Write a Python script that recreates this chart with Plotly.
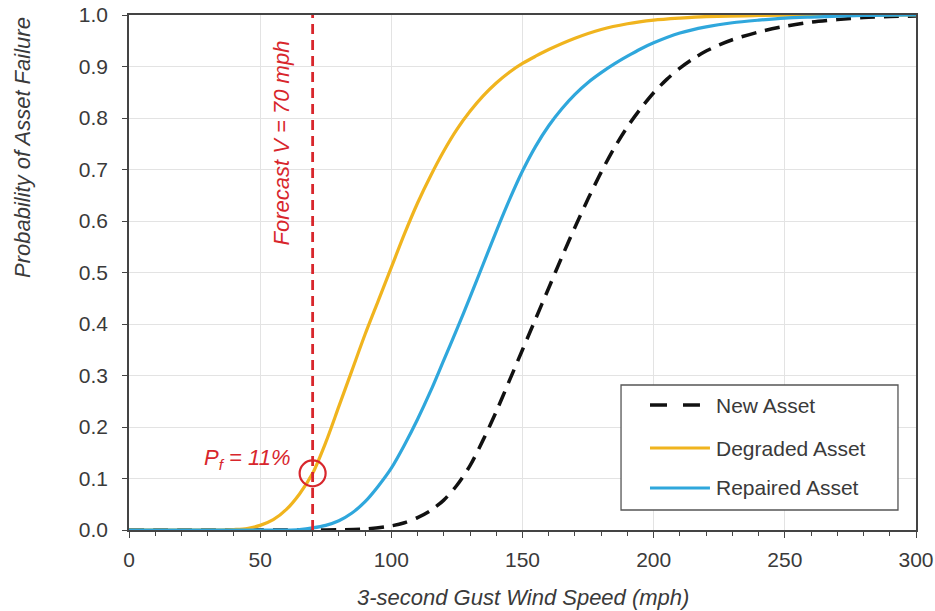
import plotly.graph_objects as go

# ---- data ----
wind_new = [0, 10, 20, 30, 40, 50, 60, 70, 80, 90, 100, 105, 110, 115, 120, 125, 130, 135, 140, 145, 150,
            155, 160, 165, 170, 175, 180, 185, 190, 195, 200, 205, 210, 215, 220, 225, 230, 240, 250,
            260, 270, 280, 290, 300]
p_new = [0, 0, 0, 0, 0, 0, 0, 0, 0.0005, 0.002, 0.008, 0.014, 0.024, 0.038, 0.058, 0.087, 0.125, 0.175,
         0.23, 0.29, 0.35, 0.41, 0.47, 0.53, 0.588, 0.643, 0.695, 0.742, 0.783, 0.818, 0.849, 0.875,
         0.897, 0.915, 0.93, 0.942, 0.952, 0.967, 0.978, 0.986, 0.991, 0.995, 0.997, 0.998]

wind_deg = [0, 10, 20, 30, 35, 40, 45, 50, 55, 60, 65, 70, 75, 80, 85, 90, 95, 100, 105, 110, 115, 120,
            125, 130, 135, 140, 145, 150, 155, 160, 170, 180, 190, 200, 210, 220, 240, 260, 280, 300]
p_deg = [0, 0, 0, 0, 0, 0.001, 0.003, 0.009, 0.02, 0.04, 0.07, 0.11, 0.17, 0.24, 0.31, 0.38, 0.445,
         0.51, 0.575, 0.635, 0.688, 0.736, 0.778, 0.813, 0.843, 0.868, 0.889, 0.906, 0.92, 0.933, 0.955,
         0.972, 0.983, 0.99, 0.994, 0.997, 0.999, 1.0, 1.0, 1.0]

wind_rep = [0, 10, 20, 30, 40, 50, 60, 65, 70, 75, 80, 85, 90, 95, 100, 105, 110, 115, 120, 125, 130,
            135, 140, 145, 150, 155, 160, 165, 170, 175, 180, 185, 190, 195, 200, 210, 220, 230, 240,
            250, 260, 280, 300]
p_rep = [0, 0, 0, 0, 0, 0, 0, 0.001, 0.004, 0.009, 0.018, 0.033, 0.055, 0.085, 0.12, 0.165, 0.215,
         0.27, 0.33, 0.39, 0.452, 0.516, 0.58, 0.641, 0.697, 0.745, 0.785, 0.818, 0.846, 0.869, 0.888,
         0.905, 0.92, 0.934, 0.946, 0.965, 0.977, 0.985, 0.99, 0.994, 0.996, 0.999, 1.0]

forecast_v = 70
forecast_pf = 0.11
series_names = ["New Asset", "Degraded Asset", "Repaired Asset"]
x_ticks = [0, 50, 100, 150, 200, 250, 300]
y_ticks = [0.0, 0.1, 0.2, 0.3, 0.4, 0.5, 0.6, 0.7, 0.8, 0.9, 1.0]

# ---- styling ----
C_NEW = "#111111"
C_DEG = "#F0B41E"
C_REP = "#2FA7DC"
C_RED = "#D8262C"
FONT = "Liberation Sans, Arial, sans-serif"
TXT = "#3a3a3a"
SM = 0.8

fig = go.Figure()
fig.add_trace(go.Scatter(x=wind_new, y=p_new, mode="lines", name=series_names[0],
                         line=dict(color=C_NEW, width=3.5, dash="15px,9px", shape="spline", smoothing=SM)))
fig.add_trace(go.Scatter(x=wind_deg, y=p_deg, mode="lines", name=series_names[1],
                         line=dict(color=C_DEG, width=3.2, shape="spline", smoothing=SM)))
fig.add_trace(go.Scatter(x=wind_rep, y=p_rep, mode="lines", name=series_names[2],
                         line=dict(color=C_REP, width=3.2, shape="spline", smoothing=SM)))
# forecast line
fig.add_trace(go.Scatter(x=[forecast_v, forecast_v], y=[0, 1], mode="lines", showlegend=False,
                         line=dict(color=C_RED, width=2.8, dash="10px,6px")))
# circle at Pf
fig.add_trace(go.Scatter(x=[forecast_v], y=[forecast_pf], mode="markers", showlegend=False,
                         marker=dict(symbol="circle-open", size=26, color=C_RED, line=dict(width=2.2, color=C_RED))))

fig.update_layout(
    width=935, height=611,
    margin=dict(l=129, r=19, t=15, b=81, autoexpand=False),
    paper_bgcolor="white", plot_bgcolor="white",
    showlegend=False,
    font=dict(family=FONT, size=21, color=TXT),
)
fig.update_xaxes(range=[0, 300], tickvals=x_ticks, showgrid=True, gridcolor="#e3e3e3", gridwidth=1,
                 showline=True, linecolor="#444", linewidth=1.5, mirror=True, automargin=False,
                 ticks="outside", ticklen=6, tickcolor="#444", tickwidth=1.3,
                 minor=dict(dtick=10, ticks="outside", ticklen=4, tickcolor="#444", showgrid=False),
                 tickfont=dict(size=21, color=TXT), ticklabelstandoff=4, zeroline=False)
fig.update_yaxes(range=[0, 1.0], tickvals=y_ticks, tickformat=".1f", showgrid=True, gridcolor="#e3e3e3",
                 gridwidth=1, showline=True, linecolor="#444", linewidth=1.5, mirror=True, automargin=False,
                 ticks="outside", ticklen=5, tickcolor="#444", tickwidth=1.3,
                 tickfont=dict(size=21, color=TXT), ticklabelstandoff=10, zeroline=False)

ann = []
# axis titles
ann.append(dict(text="<i>Probability of Asset Failure</i>", xref="paper", yref="paper", x=-0.1347, y=0.7437,
                textangle=-90, showarrow=False, font=dict(size=22, color=TXT), xanchor="center", yanchor="middle"))
ann.append(dict(text="<i>3-second Gust Wind Speed (mph)</i>", xref="paper", yref="paper", x=0.5, y=-0.132,
                showarrow=False, font=dict(size=22, color=TXT), xanchor="center", yanchor="middle"))
# red labels
ann.append(dict(text="<i>Forecast V = 70 mph</i>", xref="x", yref="y", x=58.2, y=0.752, textangle=-90,
                showarrow=False, font=dict(size=22, color=C_RED), xanchor="center", yanchor="middle"))
ann.append(dict(text="<i>P<sub>f</sub> = 11%</i>", xref="x", yref="y", x=62.3, y=0.138,
                showarrow=False, font=dict(size=22, color=C_RED), xanchor="right", yanchor="middle"))

# manual legend
leg_rows_y = [0.2427, 0.1592, 0.0816]
leg_colors = [C_NEW, C_DEG, C_REP]
shapes = [dict(type="rect", xref="paper", yref="paper", x0=0.6252, x1=0.9771, y0=0.0388, y1=0.2816,
               line=dict(color="#555", width=1.3), fillcolor="white", layer="above")]
for i, (nm, col, yy) in enumerate(zip(series_names, leg_colors, leg_rows_y)):
    if i == 0:
        for (a, b) in [(0.662, 0.6836), (0.7039, 0.7255)]:
            shapes.append(dict(type="line", xref="paper", yref="paper", x0=a, x1=b, y0=yy, y1=yy,
                               line=dict(color=col, width=3.5), layer="above"))
    else:
        shapes.append(dict(type="line", xref="paper", yref="paper", x0=0.662, x1=0.7382, y0=yy, y1=yy,
                           line=dict(color=col, width=3.2), layer="above"))
    ann.append(dict(text=nm, xref="paper", yref="paper", x=0.7433, y=yy, showarrow=False,
                    xanchor="left", yanchor="middle", font=dict(size=21, color=TXT)))

fig.update_layout(annotations=ann, shapes=shapes)
fig.write_html("out.html")
